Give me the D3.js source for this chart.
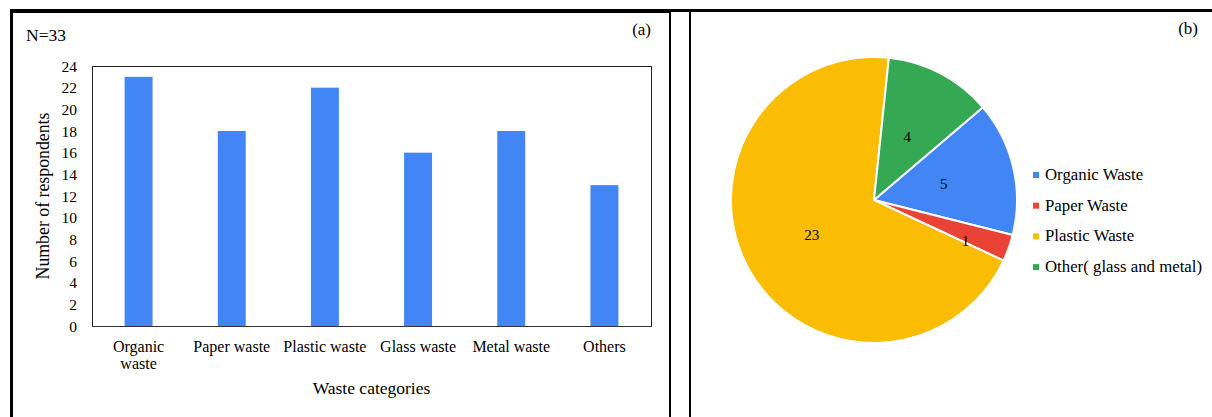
<!DOCTYPE html>
<html>
<head>
<meta charset="utf-8">
<script src="https://cdn.jsdelivr.net/npm/d3@7"></script>
<style>
  html, body { margin: 0; padding: 0; background: #fff; }
  svg { display: block; font-family: "Liberation Serif", "Times New Roman", serif; }
</style>
</head>
<body>
<svg id="chart" width="1212" height="417"></svg>
<script>
// ---- data (a) ----
const barCategories = ["Organic\nwaste", "Paper waste", "Plastic waste", "Glass waste", "Metal waste", "Others"];
const barValues = [23, 18, 22, 16, 18, 13];
const yTicks = [0, 2, 4, 6, 8, 10, 12, 14, 16, 18, 20, 22, 24];
// ---- data (b) ----
const pieCategories = ["Organic Waste", "Paper Waste", "Plastic Waste", "Other( glass and metal)"];
const pieValues = [5, 1, 23, 4];
const pieColors = ["#4285F4", "#EA4335", "#FBBC04", "#34A853"];
const barColor = "#4285F4";

const svg = d3.select("#chart");
svg.append("rect").attr("width", 1212).attr("height", 417).attr("fill", "#fff");

// ---- frames ----
const frame = svg.append("g").attr("fill", "none").attr("stroke", "#000");
frame.append("line").attr("x1", 10).attr("x2", 1212).attr("y1", 10.5).attr("y2", 10.5).attr("stroke-width", 3);
frame.append("line").attr("x1", 10).attr("x2", 670).attr("y1", 12.5).attr("y2", 12.5).attr("stroke-width", 1);
frame.append("line").attr("x1", 11.5).attr("x2", 11.5).attr("y1", 9).attr("y2", 417).attr("stroke-width", 3);
frame.append("line").attr("x1", 670).attr("x2", 670).attr("y1", 9).attr("y2", 417).attr("stroke-width", 2);
frame.append("line").attr("x1", 690).attr("x2", 690).attr("y1", 9).attr("y2", 417).attr("stroke-width", 2);

// ---- (a) bar chart ----
const plot = { left: 92, right: 651, top: 66, bottom: 326 };
const x = d3.scaleBand().domain(barCategories)
  .range([plot.left, plot.right]).paddingInner(0.7).paddingOuter(0.35);
const y = d3.scaleLinear().domain([0, 24]).range([plot.bottom, plot.top]);

const a = svg.append("g");
a.append("rect").attr("x", plot.left + 0.5).attr("y", plot.top + 0.5)
  .attr("width", plot.right - plot.left).attr("height", plot.bottom - plot.top)
  .attr("fill", "none").attr("stroke", "#222").attr("stroke-width", 1);

a.selectAll("rect.bar").data(barValues).enter().append("rect").attr("class", "bar")
  .attr("x", (d, i) => x(barCategories[i]))
  .attr("y", d => y(d))
  .attr("width", x.bandwidth())
  .attr("height", d => y(0) - y(d))
  .attr("fill", barColor);

a.append("line").attr("x1", plot.left).attr("x2", plot.right + 1)
  .attr("y1", plot.bottom + 0.5).attr("y2", plot.bottom + 0.5)
  .attr("stroke", "#333").attr("stroke-width", 1.2);

const yAxis = a.append("g").attr("transform", `translate(${plot.left},0)`)
  .call(d3.axisLeft(y).tickValues(yTicks).tickSize(0).tickPadding(15));
yAxis.select(".domain").remove();
yAxis.selectAll("text").attr("font-family", "Liberation Serif").attr("font-size", 15.5)
  .attr("fill", "#000").attr("dy", "0.34em");

const xAxis = a.append("g").attr("transform", `translate(0,${plot.bottom})`)
  .call(d3.axisBottom(x).tickSize(0).tickFormat(""));
xAxis.select(".domain").remove();
xAxis.selectAll(".tick").each(function (d) {
  const t = d3.select(this).append("text")
    .attr("y", 26).attr("fill", "#000").attr("text-anchor", "middle")
    .attr("font-family", "Liberation Serif").attr("font-size", 16);
  d.split("\n").forEach((line, k) => {
    t.append("tspan").attr("x", 0).attr("dy", k === 0 ? 0 : 17).text(line);
  });
});

a.append("text").attr("x", (plot.left + plot.right) / 2).attr("y", 394)
  .attr("text-anchor", "middle").attr("font-size", 17.5).text("Waste categories");
a.append("text").attr("transform", `translate(49,${(plot.top + plot.bottom) / 2}) rotate(-90)`)
  .attr("text-anchor", "middle").attr("font-size", 17.8).text("Number of respondents");
a.append("text").attr("x", 26).attr("y", 40.5).attr("font-size", 17.5).text("N=33");
a.append("text").attr("x", 651).attr("y", 35).attr("text-anchor", "end").attr("font-size", 17).text("(a)");

// ---- (b) pie chart ----
const b = svg.append("g");
b.append("text").attr("x", 1198).attr("y", 34).attr("text-anchor", "end").attr("font-size", 17).text("(b)");

const cx = 874, cy = 200, r = 143;
const total = d3.sum(pieValues);
const start = 49.6 * Math.PI / 180;
const pie = d3.pie().sort(null).startAngle(start).endAngle(start + 2 * Math.PI);
const arcs = pie(pieValues);
const arc = d3.arc().innerRadius(0).outerRadius(r);
const pg = b.append("g").attr("transform", `translate(${cx},${cy})`);
pg.selectAll("path").data(arcs).enter().append("path")
  .attr("d", arc).attr("fill", (d, i) => pieColors[i])
  .attr("stroke", "#fff").attr("stroke-width", 2).attr("stroke-linejoin", "round");
pg.selectAll("text").data(arcs).enter().append("text")
  .attr("transform", d => {
    const small = d.value / total < 0.05;
    const lr = (small ? 0.7 : 0.5) * r;
    // small slices: label nudged toward the slice's trailing edge (best-fit placement)
    const mid = small ? d.startAngle + (d.endAngle - d.startAngle) * 0.9 : (d.startAngle + d.endAngle) / 2;
    return `translate(${lr * Math.sin(mid)},${-lr * Math.cos(mid)})`;
  })
  .attr("text-anchor", "middle").attr("dy", "0.35em").attr("font-size", 15)
  .text(d => d.value);

const legend = b.append("g").attr("transform", "translate(1033,175)");
const lg = legend.selectAll("g").data(pieCategories).enter().append("g")
  .attr("transform", (d, i) => `translate(0,${i * 30.7})`);
lg.append("rect").attr("x", 0).attr("y", -3).attr("width", 6).attr("height", 6)
  .attr("fill", (d, i) => pieColors[i]);
lg.append("text").attr("x", 12).attr("y", 5).attr("font-size", 16.8).text(d => d);
</script>
</body>
</html>
